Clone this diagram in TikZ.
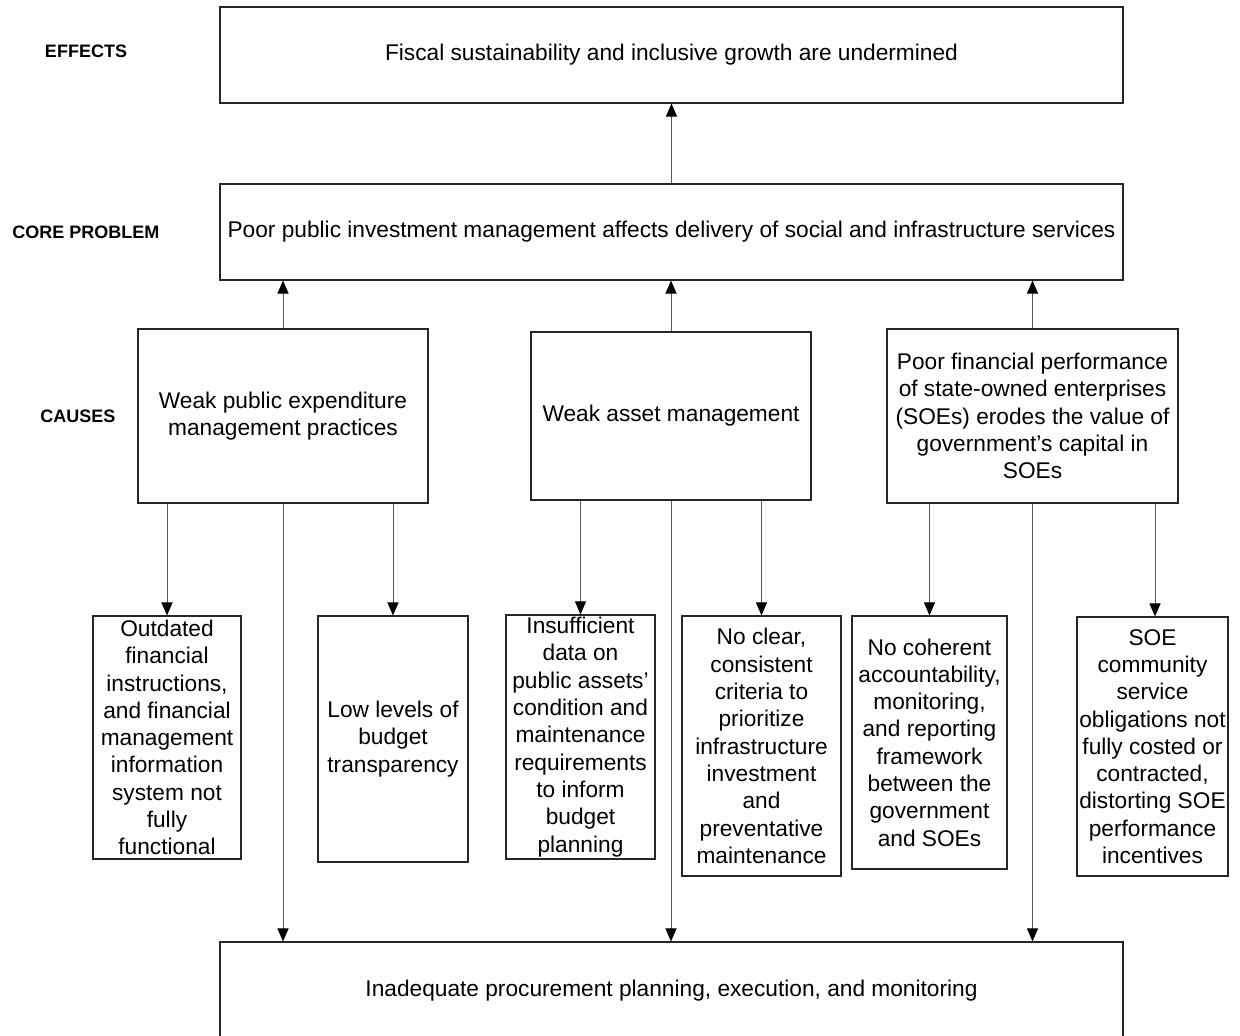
\documentclass[tikz,border=0pt]{standalone}
\usepackage{fontspec}
\setmainfont{Liberation Sans}
\usetikzlibrary{arrows.meta}
\begin{document}
\begin{tikzpicture}[x=1pt,y=-1pt,
  box/.style={draw=black!85,line width=1.1pt,fill=white,inner sep=1pt,align=center,
    font=\fontsize{22.7}{27.3}\selectfont},
  lab/.style={font=\fontsize{18}{21}\selectfont\bfseries},
  conn/.style={draw=black!65,line width=1pt,-{Triangle[length=13pt,width=11pt,fill=black,color=black]}},
  plain/.style={draw=black!65,line width=1pt}]
\useasboundingbox (0,0) rectangle (1240,1036);
\clip (0,0) rectangle (1240,1036);
% labels
\node[lab] (leff) at (86,51) {EFFECTS};
\node[lab] (lcore) at (86,232) {CORE PROBLEM};
\node[lab] (lcause) at (78,416) {CAUSES};
% main boxes
\node[box,minimum width=903,minimum height=96] (eff) at (671.5,55) {Fiscal sustainability and inclusive growth are undermined};
\node[box,minimum width=903,minimum height=96] (core) at (671.5,232) {Poor public investment management affects delivery of social and infrastructure services};
\node[box,minimum width=290,minimum height=174] (c1) at (283,416) {Weak public expenditure\\management practices};
\node[box,minimum width=280,minimum height=168] (c2) at (671,416) {Weak asset management};
\node[box,minimum width=291,minimum height=174] (c3) at (1032.5,416) {Poor financial performance\\of state-owned enterprises\\(SOEs) erodes the value of\\government’s capital in\\SOEs};
% sub boxes
\node[box,minimum width=148,minimum height=243] (sA) at (167,737.5) {Outdated\\financial\\instructions,\\and financial\\management\\information\\system not\\fully\\functional};
\node[box,minimum width=150,minimum height=246] (sB) at (393,739) {Low levels of\\budget\\transparency};
\node[box,minimum width=149,minimum height=244] (sC) at (580.5,737) {Insufficient\\data on\\public assets’\\condition and\\maintenance\\requirements\\to inform\\budget\\planning};
\node[box,minimum width=159,minimum height=260] (sD) at (761.5,746) {No clear,\\consistent\\criteria to\\prioritize\\infrastructure\\investment\\and\\preventative\\maintenance};
\node[box,minimum width=155,minimum height=253] (sE) at (929.5,742.5) {No coherent\\accountability,\\monitoring,\\and reporting\\framework\\between the\\government\\and SOEs};
\node[box,minimum width=151,minimum height=259] (sF) at (1152.5,746.5) {SOE\\community\\service\\obligations not\\fully costed or\\contracted,\\distorting SOE\\performance\\incentives};
% bottom box
\node[box,minimum width=903,minimum height=98] (proc) at (671.5,991) {Inadequate procurement planning, execution, and monitoring};
% connectors
\draw[conn] (core.north) -- (eff.south);
\draw[conn] (c1.north) -- (c1.north |- core.south);
\draw[conn] (c2.north) -- (c2.north |- core.south);
\draw[conn] (c3.north) -- (c3.north |- core.south);
\draw[conn] (sA.north |- c1.south) -- (sA.north);
\draw[conn] (sB.north |- c1.south) -- (sB.north);
\draw[conn] (sC.north |- c2.south) -- (sC.north);
\draw[conn] (sD.north |- c2.south) -- (sD.north);
\draw[conn] (sE.north |- c3.south) -- (sE.north);
\draw[conn] ([xshift=2.5pt]sF.north |- c3.south) -- ([xshift=2.5pt]sF.north);
\draw[conn] (c1.south) -- (c1.south |- proc.north);
\draw[conn] (c2.south) -- (c2.south |- proc.north);
\draw[conn] (c3.south) -- (c3.south |- proc.north);
\end{tikzpicture}
\end{document}
